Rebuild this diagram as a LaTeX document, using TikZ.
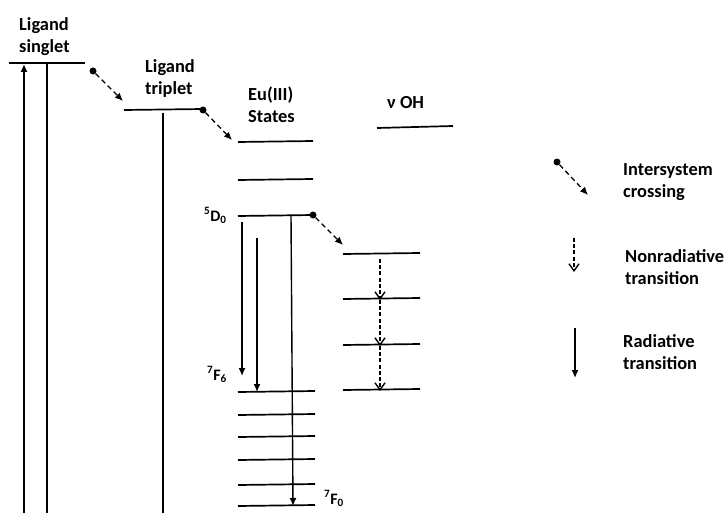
\documentclass[tikz,border=0pt]{standalone}
\usepackage{fontspec}
\setmainfont{Carlito}
\usetikzlibrary{arrows.meta}
\begin{document}
\begin{tikzpicture}[x=1pt,y=-1pt,
  level/.style={line width=1.7pt},
  rad/.style={line width=1.4pt,-{Latex[length=8pt,width=7pt]}},
  uprad/.style={line width=1.4pt,{Latex[length=8pt,width=7pt]}-},
  nonrad/.style={line width=1.5pt,dash pattern=on 4pt off 2.2pt,-{Straight Barb[length=7pt,width=10pt,line width=1.4pt]}},
  isc/.style={line width=1.3pt,dash pattern=on 5pt off 3.5pt,-{Latex[length=8pt,width=7pt]}},
  dot/.style={circle,fill=black,inner sep=0pt,minimum size=7pt},
  lbl/.style={font=\bfseries\fontsize{18.4}{22}\selectfont,align=left,inner sep=0pt},
  term/.style={font=\bfseries\fontsize{16}{19}\selectfont,inner sep=0pt}]
\clip (0,0) rectangle (727,513);
\useasboundingbox (0,0) rectangle (727,513);

% labels
\node[lbl,anchor=north west] (lsing) at (19,17) {Ligand\\singlet};
\node[lbl,anchor=north west] (ltrip) at (145,59) {Ligand\\triplet};
\node[lbl,anchor=north west] (leu) at (248,87) {Eu(III)\\States};
\node[lbl,anchor=base west] (loh) at (387,109) {ν OH};
\node[term,anchor=base west] (l5d0) at (204,221) {\textsuperscript{5}D\textsubscript{0}};
\node[term,anchor=base west] (l7f6) at (207,380) {\textsuperscript{7}F\textsubscript{6}};
\node[term,anchor=base west] (l7f0) at (324,504) {\textsuperscript{7}F\textsubscript{0}};

% level end points
\coordinate (s1) at (9,63);   \coordinate (s2) at (85,63);
\coordinate (t1) at (124,110); \coordinate (t2) at (203,109);
\coordinate (e1a) at (238,142); \coordinate (e1b) at (313,141);
\coordinate (e2a) at (238,180); \coordinate (e2b) at (313,179);
\coordinate (d0a) at (238,216); \coordinate (d0b) at (313,215);
\coordinate (oha) at (377,128); \coordinate (ohb) at (453,126);
\foreach \n/\y in {1/254,2/299,3/345,4/390}{
  \coordinate (v\n a) at (343,\y); \coordinate (v\n b) at (420,\y-1);
}
\foreach \n/\y in {6/392,5/415,4/437,3/460,2/485,1/506}{
  \coordinate (f\n a) at (238,\y); \coordinate (f\n b) at (315,\y-1);
}

% levels
\draw[level] (s1) -- (s2);
\draw[level] (t1) -- (t2);
\draw[level] (e1a) -- (e1b);
\draw[level] (e2a) -- (e2b);
\draw[level] (d0a) -- (d0b);
\draw[level] (oha) -- (ohb);
\foreach \n in {1,2,3,4}{ \draw[level] (v\n a) -- (v\n b); }
\foreach \n in {1,2,3,4,5,6}{ \draw[level] (f\n a) -- (f\n b); }

% ligand verticals
\coordinate (b1) at (24,523); \coordinate (u1) at (24,64);
\draw[uprad] (u1) -- (b1);
\coordinate (a2) at (47,63); \coordinate (b2) at (47,523);
\draw[rad] (a2) -- (b2);
\coordinate (a3) at (163,113); \coordinate (b3) at (163,523);
\draw[rad] (a3) -- (b3);

% Eu radiative
\coordinate (r1s) at (242,222); \coordinate (r1e) at (242,376);
\draw[rad] (r1s) -- (r1e);
\coordinate (r2s) at (257,238); \coordinate (r2e) at (257,392);
\draw[rad] (r2s) -- (r2e);
\coordinate (r3s) at (291,216); \coordinate (r3e) at (293,506);
\draw[rad] (r3s) -- (r3e);

% ISC
\node[dot] (i1) at (93,71) {};   \coordinate (i1e) at (123,101);
\draw[isc] (i1) -- (i1e);
\node[dot] (i2) at (203,110) {}; \coordinate (i2e) at (232,140);
\draw[isc] (i2) -- (i2e);
\node[dot] (i3) at (313,215) {}; \coordinate (i3e) at (343,245);
\draw[isc] (i3) -- (i3e);

% nonradiative cascade
\coordinate (n0) at (380,259); \coordinate (n1) at (380,300);
\coordinate (n2) at (380,346); \coordinate (n3) at (380,391);
\draw[nonrad] (n0) -- (n1);
\draw[nonrad] (n1) -- (n2);
\draw[nonrad] (n2) -- (n3);

% legend
\node[dot] (gi) at (557,162) {}; \coordinate (gie) at (588,195);
\draw[isc] (gi) -- (gie);
\node[lbl,anchor=north west] (tisc) at (623,163) {Intersystem\\crossing};
\coordinate (gn1) at (574,238); \coordinate (gn2) at (574,272);
\draw[nonrad] (gn1) -- (gn2);
\node[lbl,anchor=north west] (tnon) at (625,249) {Nonradiative\\transition};
\coordinate (gr1) at (575,328); \coordinate (gr2) at (575,378);
\draw[rad] (gr1) -- (gr2);
\node[lbl,anchor=north west] (trad) at (623,334) {Radiative\\transition};
\end{tikzpicture}
\end{document}
